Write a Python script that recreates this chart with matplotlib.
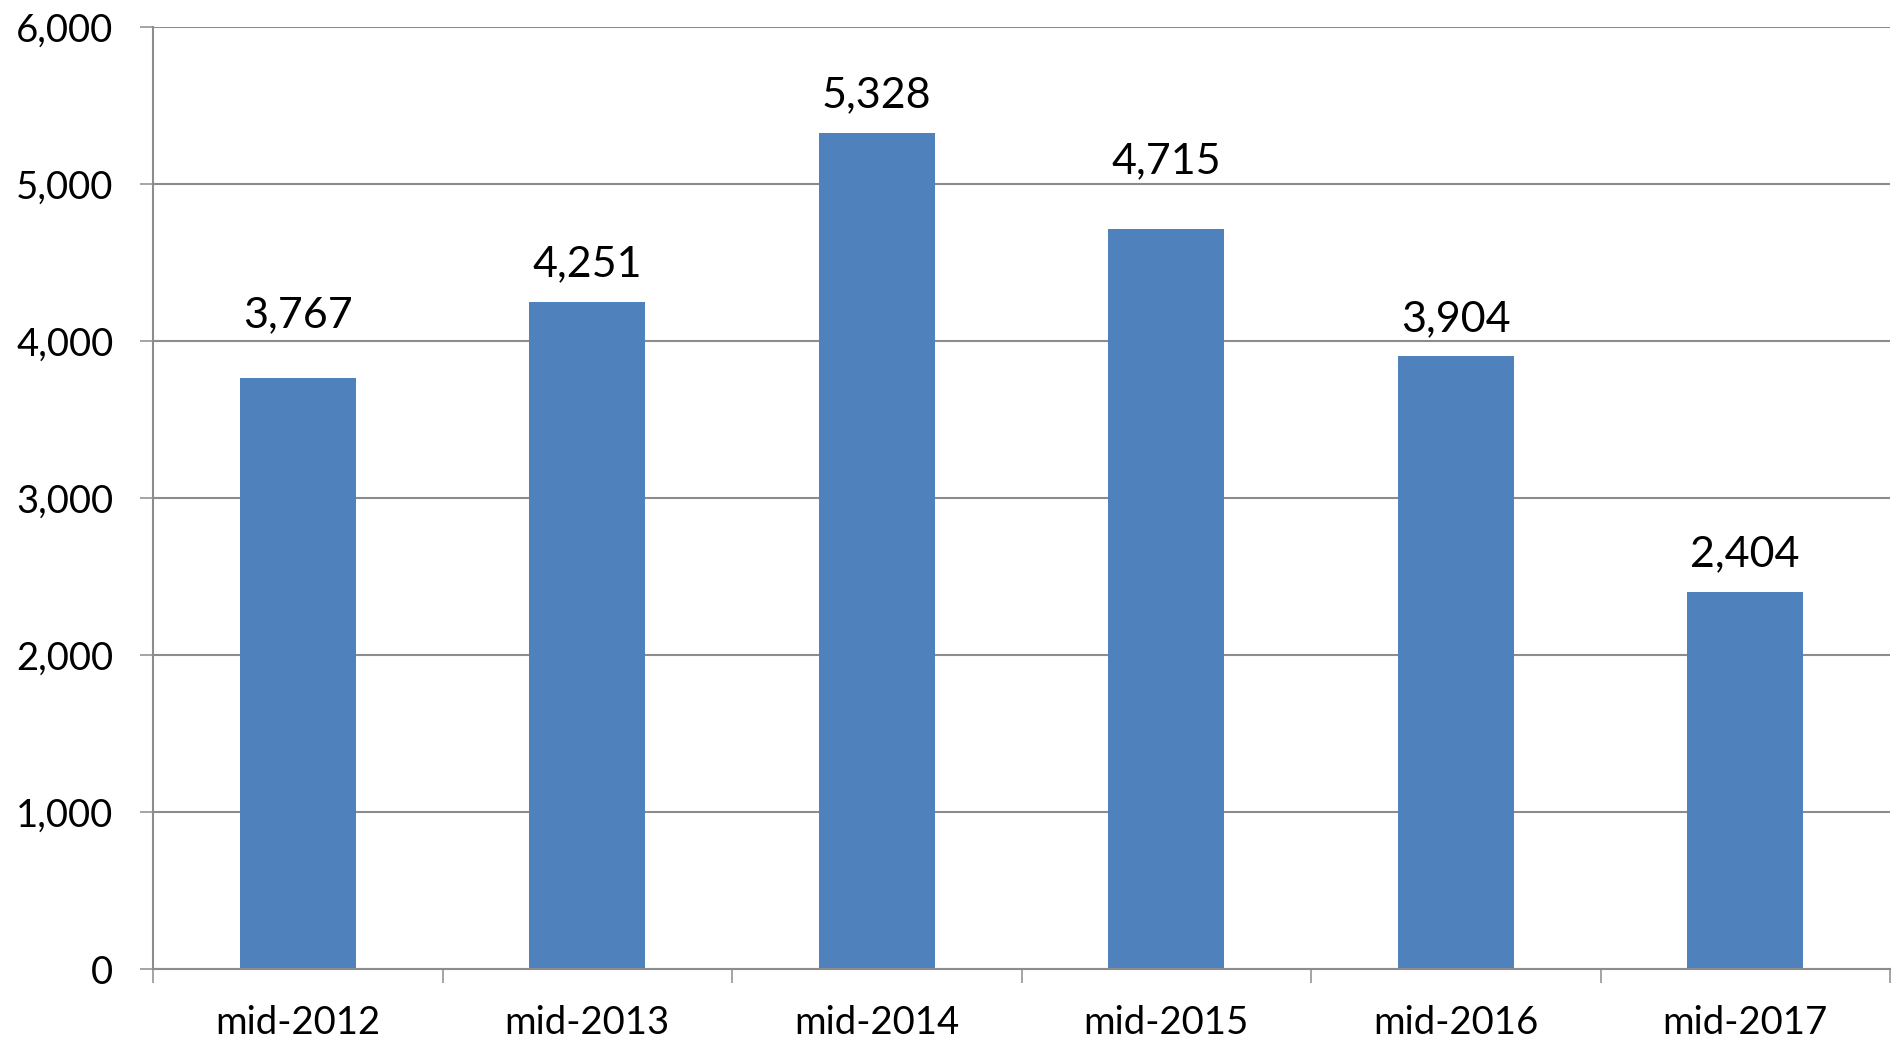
import matplotlib
matplotlib.use("Agg")
import matplotlib.pyplot as plt
from matplotlib.ticker import FuncFormatter, FixedLocator

categories = ["mid-2012", "mid-2013", "mid-2014", "mid-2015", "mid-2016", "mid-2017"]
values = [3767, 4251, 5328, 4715, 3904, 2404]
yticks = [0, 1000, 2000, 3000, 4000, 5000, 6000]
# extra vertical offset (points) for manually raised labels
label_extra = [18, 0, 0, 22, 0, 0]

plt.rcParams['font.family'] = ['Lato', 'DejaVu Sans']

fig = plt.figure(figsize=(18.92, 10.45), dpi=100)
ax = fig.add_axes([153/1892, 76/1045, (1890-153)/1892, (1018-76)/1045])

x = list(range(len(categories)))
ax.bar(x, values, width=0.4, color="#4F81BD", zorder=3)

ax.set_xlim(-0.5, len(categories) - 0.5)
ax.set_ylim(0, 6000)
ax.set_yticks(yticks)
ax.yaxis.set_major_formatter(FuncFormatter(lambda v, p: f"{int(v):,}"))

grid_c = "#8c8c8c"
ax.grid(axis="y", color=grid_c, linewidth=1.5, zorder=0)
for s in ["top", "right"]:
    ax.spines[s].set_visible(False)
for s in ["left", "bottom"]:
    ax.spines[s].set_color(grid_c)
    ax.spines[s].set_linewidth(1.5)
    ax.spines[s].set_zorder(4)

ax.tick_params(axis="y", length=9.5, width=1.1, color=grid_c, labelsize=27.5, pad=19)
ax.set_xticks(x)
ax.set_xticklabels(categories)
ax.tick_params(axis="x", which="major", length=0, labelsize=27.5, pad=26)
ax.xaxis.set_minor_locator(FixedLocator([i - 0.5 for i in range(len(categories) + 1)]))
ax.tick_params(axis="x", which="minor", length=10, width=1.1, color=grid_c)

for xi, v, ex in zip(x, values, label_extra):
    ax.annotate(f"{v:,}", xy=(xi, v), xytext=(0, 18 + ex), textcoords="offset points",
                ha="center", va="baseline", fontsize=31)

fig.savefig("out.png", dpi=100)
